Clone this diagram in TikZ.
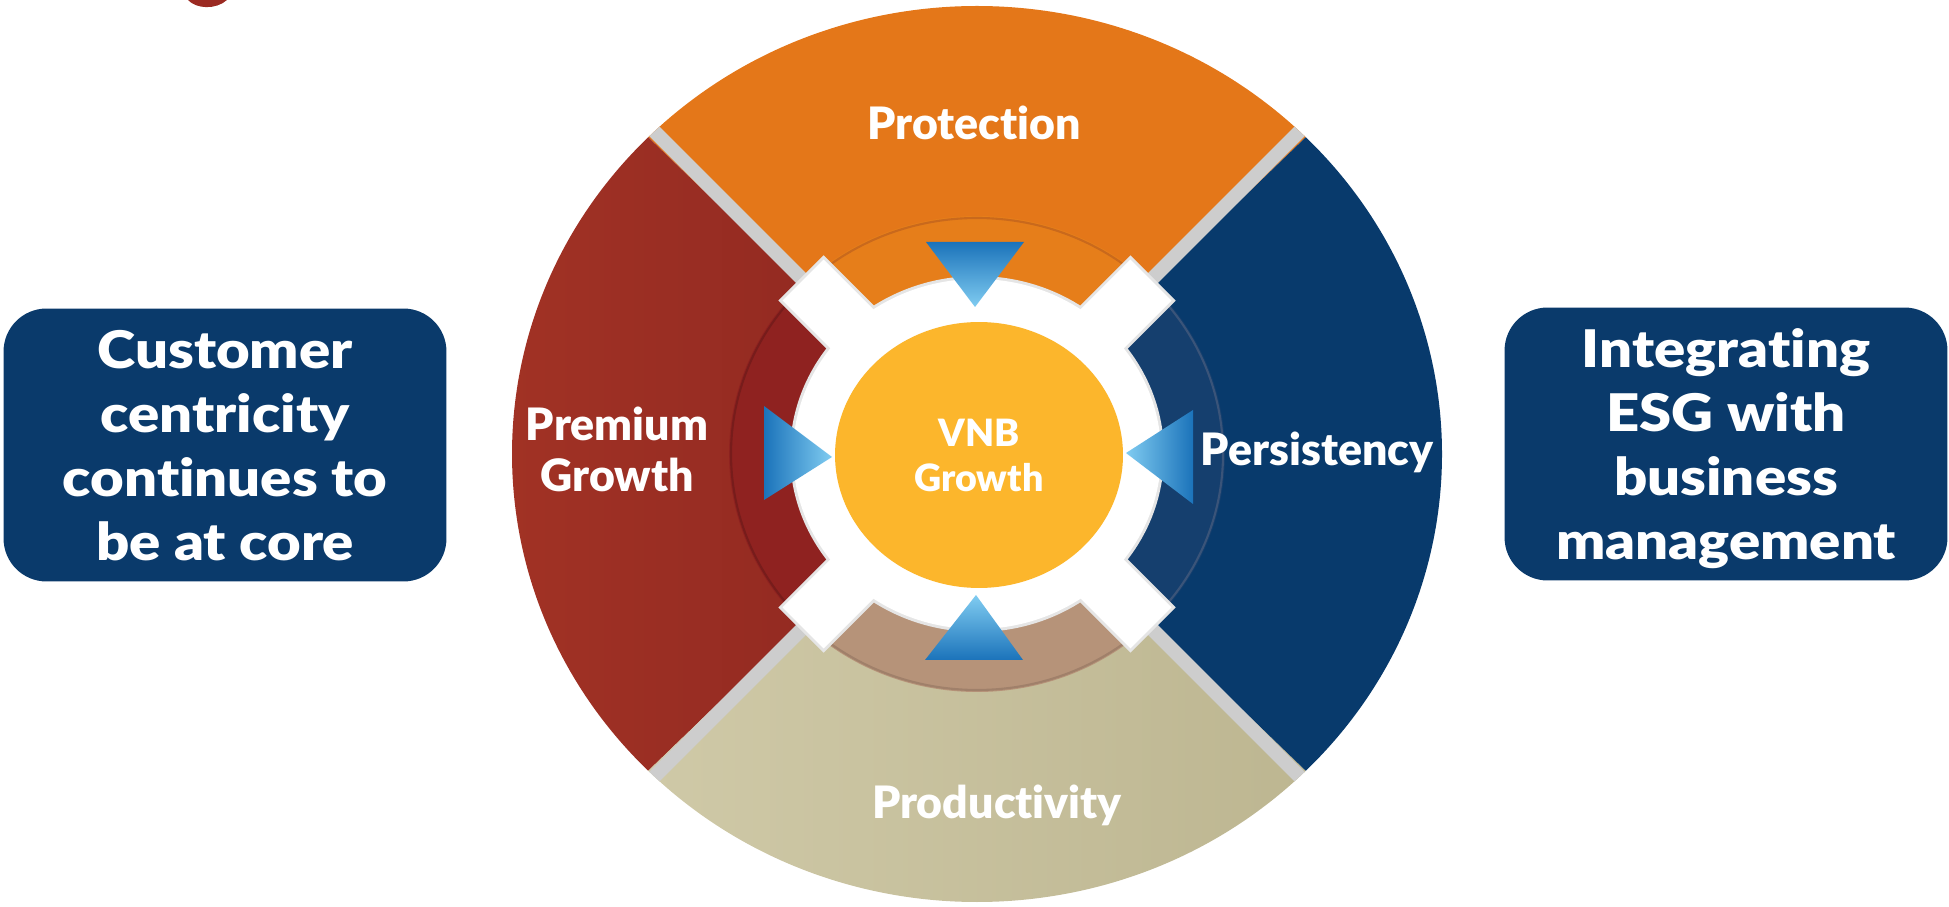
\documentclass[tikz,border=0pt]{standalone}
\usepackage{xcolor}
\usepackage{fontspec}
\setmainfont{Lato}[BoldFont={Lato Black},Ligatures=NoCommon]
\newfontfamily\boxfont{Lato Black}[FakeStretch=1.12,Ligatures=NoCommon]
\usepackage{tikz}
\usetikzlibrary{shapes.geometric}

\definecolor{boxnavy}{HTML}{0A3A6B}
\definecolor{protorange}{HTML}{E47719}
\definecolor{premredl}{HTML}{A33325}
\definecolor{premredr}{HTML}{8C2620}
\definecolor{persnavy}{HTML}{083A6C}
\definecolor{prodbeigel}{HTML}{CFC9A7}
\definecolor{prodbeiger}{HTML}{BDB691}
\definecolor{bandorange}{HTML}{E67E1A}
\definecolor{bandred}{HTML}{8F2220}
\definecolor{bandnavy}{HTML}{153F6E}
\definecolor{bandbrown}{HTML}{B69379}
\definecolor{edgeorange}{HTML}{C9691C}
\definecolor{edgered}{HTML}{771C1B}
\definecolor{edgenavy}{HTML}{3A5479}
\definecolor{edgebrown}{HTML}{A0806A}
\definecolor{vnbgold}{HTML}{FCB62C}
\definecolor{arrdark}{HTML}{1B73BA}
\definecolor{arrlight}{HTML}{80CCF1}
\definecolor{gapgray}{HTML}{CDCDCD}
\definecolor{titlered}{HTML}{9B2A22}

\begin{document}
\begin{tikzpicture}[x=0.02cm,y=0.02cm,
    sidebox/.style={fill=boxnavy,rounded corners=0.86cm,minimum width=8.86cm,minimum height=5.46cm,
      inner sep=0pt,text depth=0pt,align=center,text=white,font=\boxfont\fontsize{29.5}{36.4}\selectfont},
    seglbl/.style={inner sep=0pt,align=center,text=white,font=\bfseries\fontsize{25.4}{29}\selectfont},
    vnbdisc/.style={ellipse,fill=vnbgold,minimum width=5.76cm,minimum height=5.32cm,inner sep=0pt,
      align=center,text=white,font=\bfseries\fontsize{21.4}{25.6}\selectfont}]
\useasboundingbox (0,0) rectangle (1949,906);

\fill[titlered] (188,906) .. controls (196,897) and (216,896) .. (227,906) -- cycle;

\node[sidebox] (cust) at (225,461) {Customer\\centricity\\continues to\\be at core};
\node[sidebox] (esg) at (1726,462) {Integrating\\ESG with\\business\\management};

\begin{scope}[shift={(977,452)}]
  % outer segments
  \fill[protorange] (0,0) -- (45:465 and 448) arc[start angle=45,end angle=135,x radius=465,y radius=448] -- cycle;
  \shade[left color=premredl,right color=premredr] (0,0) -- (135:465 and 448) arc[start angle=135,end angle=225,x radius=465,y radius=448] -- cycle;
  \shade[left color=prodbeigel,right color=prodbeiger] (0,0) -- (225:465 and 448) arc[start angle=225,end angle=315,x radius=465,y radius=448] -- cycle;
  \fill[persnavy] (0,0) -- (-45:465 and 448) arc[start angle=-45,end angle=45,x radius=465,y radius=448] -- cycle;

  \begin{scope}
    \clip (0,0) ellipse [x radius=465,y radius=448];
    \fill[gapgray,rotate=45] (-470,-7) rectangle (470,7);
    \fill[gapgray,rotate=-45] (-470,-7) rectangle (470,7);
  \end{scope}

  % inner band
  \foreach \a/\c/\e in {45/bandorange/edgeorange,135/bandred/edgered,225/bandbrown/edgebrown,315/bandnavy/edgenavy} {
    \fill[\c] (\a:248 and 238) arc[start angle=\a,delta angle=90,x radius=248,y radius=238]
      -- ({\a+90}:184 and 175) arc[start angle={\a+90},delta angle=-90,x radius=184,y radius=175] -- cycle;
    \draw[\e,line width=1.2pt] (\a:246 and 236) arc[start angle=\a,delta angle=90,x radius=246,y radius=236];
  }

  % white cross, with a faint edge
  \fill[black!10,rotate=45] (-249,-32) rectangle (249,32);
  \fill[black!10,rotate=-45] (-249,-32) rectangle (249,32);
  \fill[black!10] (0,0) ellipse [x radius=187,y radius=178];
  \fill[white,rotate=45] (-246,-29) rectangle (246,29);
  \fill[white,rotate=-45] (-246,-29) rectangle (246,29);
  \fill[white] (0,0) ellipse [x radius=184,y radius=175];

  \node[vnbdisc] (vnb) at (2,-1) {VNB\\Growth};

  % arrows
  \shade[top color=arrdark,bottom color=arrlight] (-51,212) -- (47,212) -- (-2,147) -- cycle;
  \shade[top color=arrlight,bottom color=arrdark] (-52,-206) -- (46,-206) -- (-1,-141) -- cycle;
  \shade[left color=arrdark,right color=arrlight] (-213,48) -- (-213,-46) -- (-145,-3) -- cycle;
  \shade[left color=arrlight,right color=arrdark] (216,44) -- (216,-50) -- (149,1) -- cycle;

  \node[seglbl,anchor=base] (prot) at (-3,314) {Protection};
  \node[seglbl] (prem) at (-360,5) {Premium\\Growth};
  \node[seglbl,anchor=base] (pers) at (340,-12) {Persistency};
  \node[seglbl,anchor=base] (prod) at (20,-364) {Productivity};
\end{scope}
\end{tikzpicture}
\end{document}
